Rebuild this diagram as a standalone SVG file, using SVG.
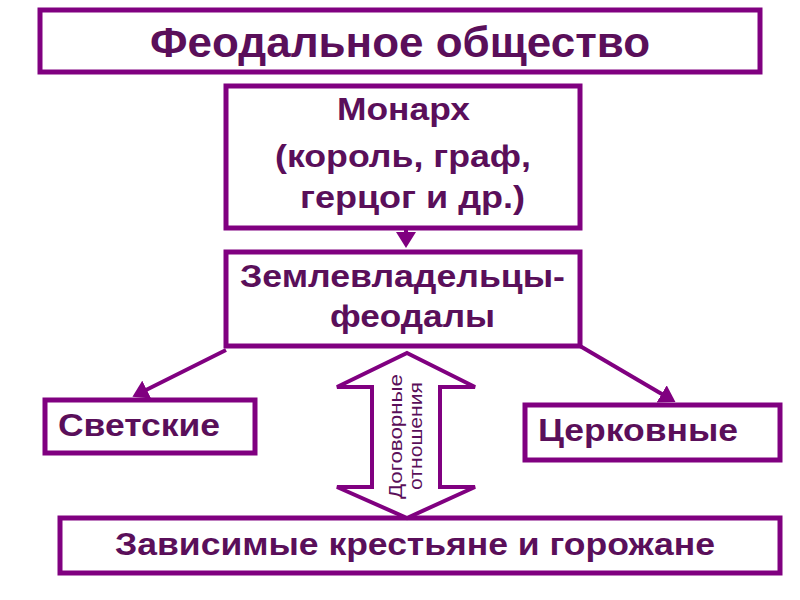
<svg xmlns="http://www.w3.org/2000/svg" width="800" height="600" viewBox="0 0 800 600">
<style>
.b{fill:#fff;stroke:#800080;stroke-width:5}
.t{font-family:"Liberation Sans",Arial,sans-serif;font-weight:bold;fill:#5a0f5a}
.c{stroke:#800080;stroke-width:4;fill:none}
</style>
<defs><marker id="a" markerWidth="5" markerHeight="5" refX="3" refY="2.5" orient="auto" markerUnits="strokeWidth"><path d="M0,0L4,2.5L0,5z" fill="#800080"/></marker></defs>
<rect width="800" height="600" fill="#fff"/>
<g id="title"><rect class="b" x="40" y="10" width="720" height="62"/><text class="t" x="150" y="57" font-size="42" textLength="500" lengthAdjust="spacingAndGlyphs">Феодальное общество</text></g>
<g id="monarch"><rect class="b" x="226" y="86" width="354" height="142"/>
<text class="t" font-size="31"><tspan x="337" y="120" textLength="133" lengthAdjust="spacingAndGlyphs">Монарх</tspan><tspan x="275" y="167" textLength="256" lengthAdjust="spacingAndGlyphs">(король, граф,</tspan><tspan x="300" y="208" textLength="225" lengthAdjust="spacingAndGlyphs">герцог и др.)</tspan></text></g>
<g id="feudals"><rect class="b" x="226" y="252" width="354" height="94"/>
<text class="t" font-size="31"><tspan x="240" y="287" textLength="325" lengthAdjust="spacingAndGlyphs">Землевладельцы-</tspan><tspan x="330" y="327" textLength="165" lengthAdjust="spacingAndGlyphs">феодалы</tspan></text></g>
<g id="secular"><rect class="b" x="45" y="400" width="210" height="53"/><text class="t" x="58" y="436" font-size="31" textLength="162" lengthAdjust="spacingAndGlyphs">Светские</text></g>
<g id="church"><rect class="b" x="525" y="405" width="255" height="55"/><text class="t" x="538" y="441" font-size="31" textLength="200" lengthAdjust="spacingAndGlyphs">Церковные</text></g>
<g id="peasants"><rect class="b" x="60" y="518" width="720" height="55"/><text class="t" x="115" y="555" font-size="31" textLength="600" lengthAdjust="spacingAndGlyphs">Зависимые крестьяне и горожане</text></g>
<g id="contract"><path d="M407,353L475,387L440,387L440,487L475,487L407,518L337,487L372,487L372,387L337,387Z" fill="#fff" stroke="#800080" stroke-width="4" stroke-linejoin="miter"/>
<text font-family="Liberation Sans,Arial,sans-serif" font-size="19" fill="#5a0f5a" transform="translate(402,437) rotate(-90)"><tspan x="-62" y="0" textLength="125" lengthAdjust="spacingAndGlyphs">Договорные</tspan><tspan x="-53" y="20" textLength="108" lengthAdjust="spacingAndGlyphs">отношения</tspan></text></g>
<g id="connectors">
<line class="c" x1="406" y1="228" x2="406" y2="244" marker-end="url(#a)"/>
<line class="c" x1="226" y1="350" x2="136" y2="395" marker-end="url(#a)"/>
<line class="c" x1="580" y1="346" x2="672" y2="400" marker-end="url(#a)"/>
</g>
</svg>
